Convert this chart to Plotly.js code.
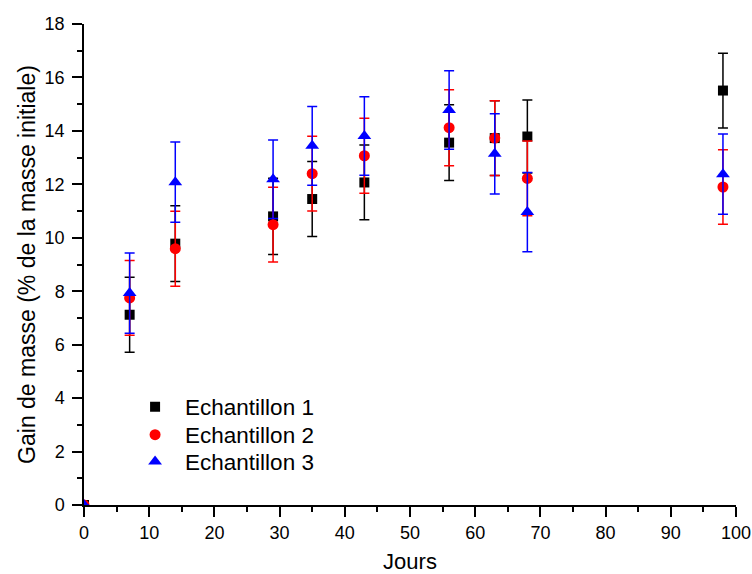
<!DOCTYPE html>
<html>
<head>
<meta charset="utf-8">
<script src="https://cdn.plot.ly/plotly-3.0.1.min.js"></script>
<style>html,body{margin:0;padding:0;background:#fff;}#chart{width:752px;height:574px;}</style>
</head>
<body>
<div id="chart"></div>
<script>
const days = [0, 7, 14, 29, 35, 43, 56, 63, 68, 98];
const ech1 = [0, 7.12, 9.78, 10.80, 11.45, 12.07, 13.56, 13.73, 13.79, 15.51];
const err1 = [0, 1.40, 1.42, 1.43, 1.40, 1.40, 1.42, 1.40, 1.37, 1.40];
const ech2 = [0, 7.75, 9.59, 10.49, 12.40, 13.07, 14.12, 13.73, 12.22, 11.90];
const err2 = [0, 1.40, 1.40, 1.40, 1.40, 1.40, 1.42, 1.40, 1.40, 1.39];
const ech3 = [0, 7.93, 12.08, 12.19, 13.44, 13.81, 14.78, 13.14, 10.96, 12.38];
const err3 = [0, 1.50, 1.50, 1.47, 1.47, 1.47, 1.47, 1.50, 1.48, 1.50];
const names = ["Echantillon 1", "Echantillon 2", "Echantillon 3"];

function tr(y, e, name, color, symbol, size, leg) {
  return {
    x: days, y: y, name: name, type: 'scatter', mode: 'markers', legend: leg,
    marker: {color: color, symbol: symbol, size: size},
    error_y: {type: 'data', array: e, visible: true, color: color, thickness: 1.5, width: 5},
    cliponaxis: true
  };
}
const data = [
  tr(ech1, err1, names[0], '#000000', 'square', 10, 'legend'),
  tr(ech2, err2, names[1], '#ff0000', 'circle', 11, 'legend2'),
  tr(ech3, err3, names[2], '#0000ff', 'triangle-up', 12, 'legend3')
];
const font = {family: 'Liberation Sans, Arial, sans-serif', color: '#000'};
function leg(y) {
  return {x: 0.063, y: y, xanchor: 'left', yanchor: 'middle', bgcolor: 'rgba(0,0,0,0)',
          font: Object.assign({size: 22.5}, font), itemwidth: 50};
}
const layout = {
  width: 752, height: 574,
  margin: {l: 84, r: 16, t: 24, b: 69},
  paper_bgcolor: '#fff', plot_bgcolor: '#fff',
  font: Object.assign({size: 18}, font),
  showlegend: true,
  legend: leg(0.2037), legend2: leg(0.1455), legend3: leg(0.0894),
  xaxis: {
    range: [0, 100], tickvals: [0,10,20,30,40,50,60,70,80,90,100],
    showgrid: false, zeroline: false, showline: true, linecolor: '#000', linewidth: 1.5,
    ticks: 'outside', ticklen: 10, tickwidth: 1.5, tickcolor: '#000', ticklabelstandoff: 1,
    minor: {dtick: 5, ticks: 'outside', ticklen: 5, tickwidth: 1.5, tickcolor: '#000', showgrid: false},
    tickfont: Object.assign({size: 18}, font),
    title: {text: 'Jours', font: Object.assign({size: 22}, font), standoff: 27}
  },
  yaxis: {
    range: [0, 18], tickvals: [0,2,4,6,8,10,12,14,16,18],
    showgrid: false, zeroline: false, showline: true, linecolor: '#000', linewidth: 1.5,
    ticks: 'outside', ticklen: 10, tickwidth: 1.5, tickcolor: '#000', ticklabelstandoff: 4,
    minor: {dtick: 1, ticks: 'outside', ticklen: 5, tickwidth: 1.5, tickcolor: '#000', showgrid: false},
    tickfont: Object.assign({size: 18}, font),
    title: {text: 'Gain de masse (% de la masse initiale)', font: Object.assign({size: 23}, font), standoff: 3}
  }
};
Plotly.newPlot('chart', data, layout, {displayModeBar: false});
</script>
</body>
</html>
